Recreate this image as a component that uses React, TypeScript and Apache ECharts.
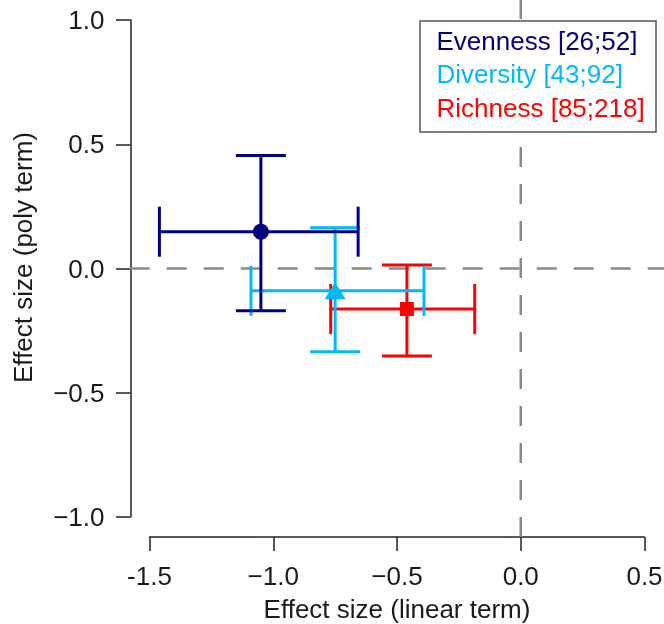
import React, { useEffect, useRef } from "react";
import * as echarts from "echarts";

// ---- data ----
const seriesNames = ["Evenness [26;52]", "Diversity [43;92]", "Richness [85;218]"];
const seriesColors = ["#000080", "#00B9FA", "#FF0000"];
const seriesSymbols = ["circle", "triangle", "rect"];
const seriesSymbolSizes: any[] = [16, [21, 17], 14];
const linearEst = [-1.05, -0.75, -0.46];
const linearLow = [-1.46, -1.09, -0.768];
const linearHigh = [-0.657, -0.391, -0.186];
const polyEst = [0.148, -0.09, -0.163];
const polyLow = [-0.17, -0.335, -0.352];
const polyHigh = [0.455, 0.164, 0.014];

const xTickValues = [-1.5, -1.0, -0.5, 0.0, 0.5];
const xTickLabels = ["-1.5", "\u22121.0", "\u22120.5", "0.0", "0.5"];
const yTickValues = [-1.0, -0.5, 0.0, 0.5, 1.0];
const yTickLabels = ["\u22121.0", "\u22120.5", "0.0", "0.5", "1.0"];

const xTitle = "Effect size (linear term)";
const yTitle = "Effect size (poly term)";

// reference lines at zero, spanning the plot region (R usr extent)
const refLines = [
  [-1.58, 0, 0.58, 0],
  [0, -1.08, 0, 1.08],
];

const FONT = "'Liberation Sans', Arial, Helvetica, sans-serif";
const FS = 26;
const TEXT = "#1a1a1a";
const AXIS = "#222222";

function labelFor(values: number[], labels: string[], v: number) {
  let best = 0;
  for (let i = 0; i < values.length; i++) {
    if (Math.abs(values[i] - v) < Math.abs(values[best] - v)) best = i;
  }
  return labels[best];
}

export default function App() {
  const ref = useRef<HTMLDivElement>(null);

  useEffect(() => {
    if (!ref.current) return;
    const chart = echarts.init(ref.current, null, { renderer: "svg" });

    const series: any[] = [
      {
        type: "custom",
        clip: false,
        silent: true,
        z: 1,
        encode: { x: 0, y: 1 },
        data: refLines,
        renderItem: (params: any, api: any) => {
          const p1 = api.coord([api.value(0), api.value(1)]);
          const p2 = api.coord([api.value(2), api.value(3)]);
          return {
            type: "line",
            shape: { x1: p1[0], y1: p1[1], x2: p2[0], y2: p2[1] },
            style: { stroke: "#8a8a8a", lineWidth: 2.5, lineDash: [20, 17], fill: null },
          };
        },
      },
    ];

    const order = [2, 1, 0];
    order.forEach((i, k) => {
      const color = seriesColors[i];
      series.push({
        type: "custom",
        name: seriesNames[i],
        clip: false,
        silent: true,
        z: 2 + k * 2,
        encode: { x: 0, y: 1 },
        data: [[linearEst[i], polyEst[i], linearLow[i], linearHigh[i], polyLow[i], polyHigh[i]]],
        renderItem: (params: any, api: any) => {
          const x = api.value(0);
          const y = api.value(1);
          const pl = api.coord([api.value(2), y]);
          const ph = api.coord([api.value(3), y]);
          const pb = api.coord([x, api.value(4)]);
          const pt = api.coord([x, api.value(5)]);
          const cap = 25;
          const style = { stroke: color, lineWidth: 3, fill: null };
          const ln = (x1: number, y1: number, x2: number, y2: number) => ({
            type: "line",
            shape: { x1, y1, x2, y2 },
            style,
          });
          return {
            type: "group",
            children: [
              ln(pl[0], pl[1], ph[0], ph[1]),
              ln(pl[0], pl[1] - cap, pl[0], pl[1] + cap),
              ln(ph[0], ph[1] - cap, ph[0], ph[1] + cap),
              ln(pb[0], pb[1], pt[0], pt[1]),
              ln(pt[0] - cap, pt[1], pt[0] + cap, pt[1]),
              ln(pb[0] - cap, pb[1], pb[0] + cap, pb[1]),
            ],
          };
        },
      });
      series.push({
        type: "scatter",
        name: seriesNames[i],
        symbol: seriesSymbols[i],
        symbolSize: seriesSymbolSizes[i],
        itemStyle: { color, opacity: 1 },
        z: 3 + k * 2,
        data: [[linearEst[i], polyEst[i]]],
      });
    });

    const legendTop = 40.5;
    const legendStep = 33.5;

    chart.setOption({
      animation: false,
      grid: {
        left: 149.5,
        right: 19.5,
        top: 20,
        bottom: 107,
        containLabel: false,
        outerBoundsMode: "none",
      },
      xAxis: {
        type: "value",
        min: -1.5,
        max: 0.5,
        interval: 0.5,
        offset: 20,
        splitLine: { show: false },
        axisLine: { show: true, onZero: false, lineStyle: { color: AXIS, width: 1.5 } },
        axisTick: { show: true, length: 14, lineStyle: { color: AXIS, width: 1.5 } },
        axisLabel: {
          margin: 26,
          fontSize: FS,
          fontFamily: FONT,
          color: TEXT,
          showMinLabel: true,
          showMaxLabel: true,
          formatter: (v: number) => labelFor(xTickValues, xTickLabels, v),
        },
        name: xTitle,
        nameLocation: "middle",
        nameGap: 59,
        nameTextStyle: { fontSize: FS, fontFamily: FONT, color: TEXT },
      },
      yAxis: {
        type: "value",
        min: -1.0,
        max: 1.0,
        interval: 0.5,
        offset: 19,
        splitLine: { show: false },
        axisLine: { show: true, onZero: false, lineStyle: { color: AXIS, width: 1.5 } },
        axisTick: { show: true, length: 14.5, lineStyle: { color: AXIS, width: 1.5 } },
        axisLabel: {
          margin: 26,
          fontSize: FS,
          fontFamily: FONT,
          color: TEXT,
          showMinLabel: true,
          showMaxLabel: true,
          formatter: (v: number) => labelFor(yTickValues, yTickLabels, v),
        },
      },
      graphic: [
        {
          type: "text",
          x: 23,
          y: 257.5,
          rotation: Math.PI / 2,
          style: {
            text: yTitle,
            fontSize: FS,
            fontFamily: FONT,
            fill: TEXT,
            align: "center",
            verticalAlign: "middle",
          },
        },
        {
          type: "rect",
          shape: { x: 420, y: 21, width: 236, height: 111 },
          style: { fill: "#ffffff", stroke: "#555555", lineWidth: 1.5 },
          z: 50,
        },
        ...seriesNames.map((name, i) => ({
          type: "text",
          x: 436.5,
          y: legendTop + legendStep * i,
          z: 51,
          style: {
            text: name,
            fontSize: FS,
            fontFamily: FONT,
            fill: seriesColors[i],
            align: "left",
            verticalAlign: "middle",
          },
        })),
      ],
      series,
    });

    return () => chart.dispose();
  }, []);

  return (
    <div
      ref={ref}
      style={{ position: "fixed", left: 0, top: 0, width: 664, height: 624 }}
    />
  );
}
